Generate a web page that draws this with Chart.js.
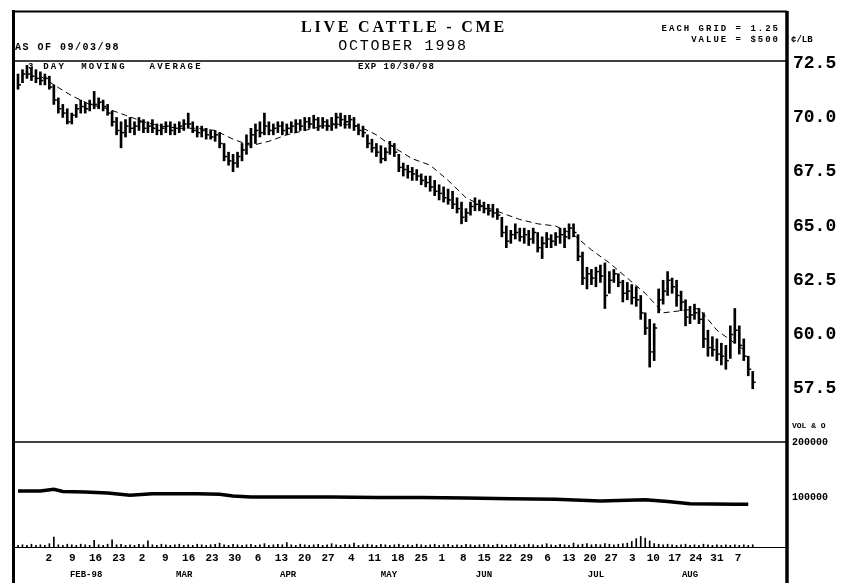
<!DOCTYPE html>
<html>
<head>
<meta charset="utf-8">
<script src="https://cdn.jsdelivr.net/npm/chart.js@4.4.1/dist/chart.umd.min.js"></script>
<style>
  html, body { margin: 0; padding: 0; background: #fff; }
  #wrap { position: relative; width: 860px; height: 583px; overflow: hidden; }
  #canvas { position: absolute; left: 0; top: 0; }
  .t { position: absolute; font-family: 'Liberation Mono', monospace; font-weight: bold; color: #000; white-space: pre; line-height: 1; }
</style>
</head>
<body>
<div id="wrap">
  <canvas id="canvas" width="860" height="583"></canvas>
  <div class="t" style="left:404px;top:18.5px;transform:translateX(-50%);font-family:'Liberation Serif',serif;font-size:16px;letter-spacing:2.8px">LIVE CATTLE - CME</div>
  <div class="t" style="left:403px;top:38.5px;transform:translateX(-50%);font-size:15px;font-weight:normal;letter-spacing:1.8px">OCTOBER 1998</div>
  <div class="t" style="left:15px;top:43px;font-size:10px;letter-spacing:1.5px">AS OF 09/03/98</div>
  <div class="t" style="right:80px;top:25px;font-size:9px;letter-spacing:2px">EACH GRID = 1.25</div>
  <div class="t" style="right:80px;top:36px;font-size:9px;letter-spacing:2px">VALUE = $500</div>
  <div class="t" style="left:791px;top:36px;font-size:9px">¢/LB</div>
  <div class="t" style="left:358px;top:63px;font-size:9px;letter-spacing:1px">EXP 10/30/98</div>
  <div class="t" style="left:28px;top:63px;font-size:9px;letter-spacing:2.2px">3 DAY  MOVING   AVERAGE</div>
  <div class="t" style="left:792px;top:422px;font-size:8px">VOL &amp; O</div>
</div>
<script>
// daily bars, index 0 = first trading day shown
const highs = [
    72.0, 72.2, 72.4, 72.3, 72.2, 72.1, 72.0, 71.9, 71.5, 70.9,
    70.6, 70.4, 70.2, 70.6, 70.8, 70.7, 70.8, 71.2, 70.9, 70.8,
    70.6, 70.3, 70.0, 69.8, 69.9, 70.0, 69.8, 70.0, 69.9, 69.8,
    69.9, 69.7, 69.7, 69.8, 69.8, 69.7, 69.8, 69.9, 70.2, 69.8,
    69.6, 69.6, 69.5, 69.4, 69.4, 69.3, 68.8, 68.4, 68.3, 68.4,
    68.8, 69.2, 69.5, 69.7, 69.8, 70.2, 69.8, 69.7, 69.8, 69.8,
    69.7, 69.8, 69.9, 69.9, 70.0, 70.0, 70.1, 70.0, 70.0, 69.9,
    70.0, 70.2, 70.2, 70.1, 70.1, 70.0, 69.7, 69.6, 69.2, 69.0,
    68.8, 68.7, 68.6, 68.9, 68.8, 68.3, 67.9, 67.8, 67.7, 67.6,
    67.4, 67.3, 67.3, 67.1, 66.9, 66.8, 66.7, 66.6, 66.3, 66.1,
    65.8, 66.1, 66.3, 66.2, 66.1, 66.0, 66.0, 65.8, 65.4, 65.0,
    64.8, 65.1, 64.9, 64.9, 64.8, 64.9, 64.7, 64.5, 64.7, 64.6,
    64.7, 64.9, 64.9, 65.1, 65.1, 64.6, 63.8, 63.1, 63.0, 63.1,
    63.2, 63.3, 62.9, 63.0, 62.8, 62.5, 62.4, 62.3, 62.2, 61.8,
    61.0, 60.7, 60.5, 62.1, 62.5, 62.9, 62.6, 62.5, 62.0, 61.6,
    61.3, 61.4, 61.2, 61.0, 60.2, 59.9, 59.8, 59.6, 59.5, 60.4,
    61.2, 60.4, 59.8, 59.0, 58.3
]
const lows = [
    71.3, 71.6, 71.8, 71.7, 71.6, 71.5, 71.5, 71.3, 70.6, 70.2,
    70.0, 69.7, 69.7, 70.0, 70.2, 70.2, 70.3, 70.4, 70.4, 70.3,
    70.1, 69.6, 69.2, 68.6, 69.1, 69.3, 69.2, 69.4, 69.3, 69.3,
    69.3, 69.2, 69.2, 69.3, 69.2, 69.2, 69.3, 69.4, 69.5, 69.3,
    69.1, 69.1, 69.0, 69.0, 68.9, 68.6, 68.0, 67.8, 67.5, 67.7,
    68.0, 68.3, 68.6, 68.8, 69.1, 69.2, 69.2, 69.2, 69.3, 69.2,
    69.2, 69.3, 69.3, 69.4, 69.4, 69.5, 69.5, 69.4, 69.5, 69.4,
    69.4, 69.5, 69.6, 69.5, 69.5, 69.4, 69.2, 69.1, 68.6, 68.4,
    68.2, 67.9, 68.0, 68.3, 68.2, 67.5, 67.3, 67.2, 67.1, 67.1,
    66.9, 66.8, 66.6, 66.4, 66.2, 66.1, 66.0, 65.8, 65.6, 65.1,
    65.2, 65.5, 65.7, 65.7, 65.6, 65.5, 65.4, 65.3, 64.5, 64.0,
    64.2, 64.4, 64.3, 64.2, 64.1, 64.2, 63.8, 63.5, 64.0, 64.0,
    64.1, 64.2, 64.0, 64.4, 64.5, 63.4, 62.3, 62.1, 62.3, 62.2,
    62.4, 61.2, 61.9, 62.4, 62.2, 61.5, 61.6, 61.4, 61.3, 60.7,
    60.0, 58.5, 58.8, 61.0, 61.4, 61.8, 61.9, 61.3, 61.1, 60.4,
    60.5, 60.7, 60.5, 59.4, 59.0, 59.0, 58.8, 58.6, 58.4, 58.9,
    59.6, 59.1, 58.8, 58.1, 57.5
]
const closes = [
    71.5, 72.0, 72.0, 71.9, 71.8, 71.7, 71.8, 71.4, 70.8, 70.4,
    70.2, 69.8, 70.1, 70.4, 70.5, 70.4, 70.6, 70.6, 70.7, 70.5,
    70.2, 69.8, 69.4, 69.3, 69.6, 69.5, 69.6, 69.8, 69.5, 69.6,
    69.5, 69.4, 69.5, 69.6, 69.4, 69.5, 69.6, 69.7, 69.7, 69.4,
    69.3, 69.4, 69.2, 69.1, 69.2, 68.8, 68.2, 68.0, 67.9, 68.2,
    68.5, 68.8, 69.2, 69.4, 69.3, 69.6, 69.4, 69.5, 69.6, 69.4,
    69.5, 69.6, 69.7, 69.6, 69.8, 69.7, 69.9, 69.6, 69.8, 69.6,
    69.7, 70.0, 69.9, 69.8, 69.9, 69.6, 69.4, 69.3, 68.8, 68.6,
    68.4, 68.1, 68.4, 68.7, 68.4, 67.7, 67.6, 67.5, 67.4, 67.3,
    67.1, 67.0, 66.8, 66.6, 66.5, 66.3, 66.2, 66.0, 65.8, 65.4,
    65.6, 65.9, 66.0, 65.9, 65.8, 65.7, 65.6, 65.5, 64.7, 64.3,
    64.6, 64.7, 64.5, 64.6, 64.4, 64.7, 64.0, 64.2, 64.4, 64.3,
    64.5, 64.6, 64.5, 64.9, 64.7, 63.6, 62.6, 62.8, 62.6, 62.9,
    62.7, 61.8, 62.5, 62.8, 62.4, 61.9, 62.0, 61.7, 61.6, 61.0,
    60.3, 59.2, 60.3, 61.6, 62.0, 62.5, 62.2, 61.8, 61.5, 60.8,
    60.9, 61.0, 60.7, 59.8, 59.4, 59.3, 59.1, 59.0, 58.8, 60.0,
    60.2, 59.5, 59.0, 58.4, 57.8
]
const volumes = [
    14000, 15000, 14000, 16000, 14000, 15000, 14000, 17000, 29000, 15000,
    14000, 16000, 15000, 14000, 16000, 15000, 14000, 23000, 15000, 14000,
    16000, 24000, 15000, 16000, 14000, 15000, 14000, 16000, 15000, 22000,
    15000, 14000, 16000, 15000, 14000, 15000, 16000, 14000, 15000, 14000,
    16000, 15000, 14000, 15000, 16000, 18000, 15000, 14000, 16000, 15000,
    14000, 15000, 16000, 14000, 15000, 17000, 14000, 15000, 16000, 15000,
    19000, 15000, 14000, 16000, 15000, 14000, 15000, 16000, 14000, 15000,
    17000, 15000, 14000, 16000, 15000, 18000, 14000, 15000, 16000, 15000,
    14000, 16000, 15000, 14000, 15000, 16000, 14000, 15000, 14000, 16000,
    15000, 14000, 15000, 16000, 14000, 15000, 16000, 14000, 15000, 14000,
    16000, 15000, 14000, 15000, 16000, 15000, 14000, 16000, 15000, 14000,
    15000, 16000, 14000, 15000, 16000, 15000, 14000, 15000, 17000, 15000,
    14000, 16000, 15000, 14000, 18000, 15000, 16000, 17000, 15000, 16000,
    15000, 17000, 16000, 15000, 16000, 17000, 18000, 21000, 26000, 30000,
    27000, 22000, 17000, 16000, 15000, 16000, 15000, 14000, 15000, 16000,
    14000, 15000, 14000, 16000, 15000, 14000, 15000, 14000, 15000, 14000,
    15000, 14000, 15000, 14000, 15000
]

// moving average, read at every 4th bar
const maIdx = [5, 8, 12, 16, 20, 24, 28, 32, 36, 40, 44, 48, 52, 56, 60, 64, 68, 72, 76, 80,
    84, 88, 92, 96, 100, 104, 108, 112, 116, 120, 124, 128, 132, 136, 140, 144, 148, 152, 156, 160, 162]
const maVals = [71.9, 71.5, 71.0, 70.6, 70.4, 70.1, 69.8, 69.6, 69.5, 69.5, 69.4, 69.0, 68.7, 68.9, 69.2,
    69.4, 69.6, 69.7, 69.6, 69.2, 68.6, 68.1, 67.8, 67.1, 66.3, 65.9, 65.6, 65.3, 65.1, 65.0,
    64.6, 63.9, 63.3, 62.6, 61.9, 61.0, 61.1, 61.2, 60.2, 59.6, 59.3]

// open interest
const oiIdx = [0, 5, 8, 10, 15, 20, 25, 30, 35, 40, 45, 48, 52, 55, 60, 70, 80, 90, 100, 110,
    120, 130, 136, 140, 145, 150, 160, 163]
const oiVals = [112000, 112000, 115000, 111000, 110000, 108000, 104000, 107000, 107000, 107000,
    106000, 103000, 101000, 101000, 101000, 101000, 100000, 100000, 99000, 98000,
    97000, 94000, 95000, 96000, 93000, 89000, 88000, 88000]

const priceTicks = [72.5, 70.0, 67.5, 65.0, 62.5, 60.0, 57.5]
const volTicks = [200000, 100000]

// weekly date labels (Mondays), placed in bar-index units
const dayTickIdx = [6.9, 12.1, 17.3, 22.5, 27.7, 32.9, 38.1, 43.3, 48.4, 53.6, 58.8, 64.0, 69.2,
    74.4, 79.6, 84.8, 90.0, 94.6, 99.4, 104.1, 108.8, 113.5, 118.2, 123.0, 127.7, 132.4,
    137.1, 141.8, 146.6, 151.3, 156.0, 160.7]
const dayTickLabels = ['2', '9', '16', '23', '2', '9', '16', '23', '30', '6', '13', '20', '27',
    '4', '11', '18', '25', '1', '8', '15', '22', '29', '6', '13', '20', '27',
    '3', '10', '17', '24', '31', '7']
const monthIdx = [15.2, 37.1, 60.3, 82.8, 104.0, 129.0, 150.0]
const monthLabels = ['FEB-98', 'MAR', 'APR', 'MAY', 'JUN', 'JUL', 'AUG']

const line = (ctx, x1, y1, x2, y2) => {
    ctx.beginPath()
    ctx.moveTo(x1, y1)
    ctx.lineTo(x2, y2)
    ctx.stroke()
}

const frame = {
    id: 'frame',
    afterDraw: chart => {
        const { ctx, chartArea: a } = chart
        const vTop = chart.scales.yv.top
        ctx.save()
        ctx.strokeStyle = '#000'
        ctx.lineWidth = 3
        line(ctx, a.left - 1.5, 10, a.left - 1.5, 583)
        ctx.lineWidth = 3.5
        line(ctx, a.right, 11, a.right, 583)
        ctx.lineWidth = 2
        line(ctx, a.left, 11.5, a.right, 11.5)
        ctx.lineWidth = 1.5
        line(ctx, a.left, a.top, a.right, a.top)
        line(ctx, a.left, vTop, a.right, vTop)
        ctx.lineWidth = 1
        line(ctx, a.left, a.bottom + 0.5, a.right, a.bottom + 0.5)
        ctx.restore()
    }
}

Chart.defaults.font.family = "'Liberation Mono', monospace"
Chart.defaults.font.weight = 'bold'
Chart.defaults.color = '#000'

const xMin = -0.67
const xMax = 171.65

const ctx = document.querySelector('#canvas').getContext('2d')
const myChart = new Chart(ctx, {
    data: {
        datasets: [
            {
                type: 'bar',
                xAxisID: 'x',
                yAxisID: 'y',
                data: highs.map((h, i) => ({ x: i, y: [lows[i], h] })),
                backgroundColor: '#000',
                barThickness: 2,
                grouped: false
            },
            {
                type: 'scatter',
                xAxisID: 'x',
                yAxisID: 'y',
                data: closes.map((c, i) => ({ x: i, y: c })),
                pointStyle: 'dash',
                pointRadius: 3,
                pointBorderWidth: 1.5,
                pointBorderColor: '#000',
                pointBackgroundColor: '#000'
            },
            {
                type: 'line',
                xAxisID: 'x',
                yAxisID: 'y',
                data: maIdx.map((x, k) => ({ x, y: maVals[k] })),
                borderColor: '#000',
                borderWidth: 1,
                borderDash: [6, 4],
                pointRadius: 0,
                fill: false
            },
            {
                type: 'line',
                xAxisID: 'x',
                yAxisID: 'yv',
                data: oiIdx.map((x, k) => ({ x, y: oiVals[k] })),
                borderColor: '#000',
                borderWidth: 3.5,
                pointRadius: 0,
                fill: false
            },
            {
                type: 'bar',
                xAxisID: 'x',
                yAxisID: 'yv',
                data: volumes.map((v, i) => ({ x: i, y: v })),
                backgroundColor: '#000',
                barThickness: 1,
                grouped: false
            }
        ]
    },
    options: {
        responsive: false,
        animation: false,
        events: [],
        layout: { padding: { left: 15, top: 61, right: 0, bottom: 0 } },
        plugins: {
            legend: { display: false },
            tooltip: { enabled: false }
        },
        scales: {
            x: {
                type: 'linear',
                position: 'bottom',
                offset: false,
                min: xMin,
                max: xMax,
                grid: { display: false, drawTicks: false, offset: false },
                border: { display: false },
                afterBuildTicks: s => { s.ticks = dayTickIdx.map(v => ({ value: v })) },
                afterFit: s => { s.height = 19 },
                ticks: {
                    autoSkip: false,
                    maxRotation: 0,
                    padding: 5,
                    font: { size: 11, weight: 'bold' },
                    callback: (v, i) => dayTickLabels[i]
                }
            },
            x2: {
                type: 'linear',
                position: 'bottom',
                offset: false,
                min: xMin,
                max: xMax,
                grid: { display: false, drawTicks: false, offset: false },
                border: { display: false },
                afterBuildTicks: s => { s.ticks = monthIdx.map(v => ({ value: v })) },
                afterFit: s => { s.height = 17 },
                ticks: {
                    autoSkip: false,
                    maxRotation: 0,
                    padding: 3,
                    font: { size: 9, weight: 'bold' },
                    callback: (v, i) => monthLabels[i]
                }
            },
            y: {
                type: 'linear',
                position: 'right',
                stack: 'panels',
                stackWeight: 381,
                min: 55.05,
                max: 72.6,
                grid: { display: false, drawTicks: false },
                border: { display: false },
                afterBuildTicks: s => { s.ticks = priceTicks.map(v => ({ value: v })) },
                afterFit: s => { s.width = 73 },
                ticks: {
                    padding: 6,
                    font: { size: 18, weight: 'bold' },
                    callback: v => v.toFixed(1)
                }
            },
            yv: {
                type: 'linear',
                position: 'right',
                stack: 'panels',
                stackWeight: 105,
                min: 11000,
                max: 200000,
                grid: { display: false, drawTicks: false },
                border: { display: false },
                afterBuildTicks: s => { s.ticks = volTicks.map(v => ({ value: v })) },
                afterFit: s => { s.width = 73 },
                ticks: {
                    padding: 5,
                    font: { size: 10, weight: 'bold' },
                    callback: v => String(v)
                }
            }
        }
    },
    plugins: [frame]
})
</script>
</body>
</html>
